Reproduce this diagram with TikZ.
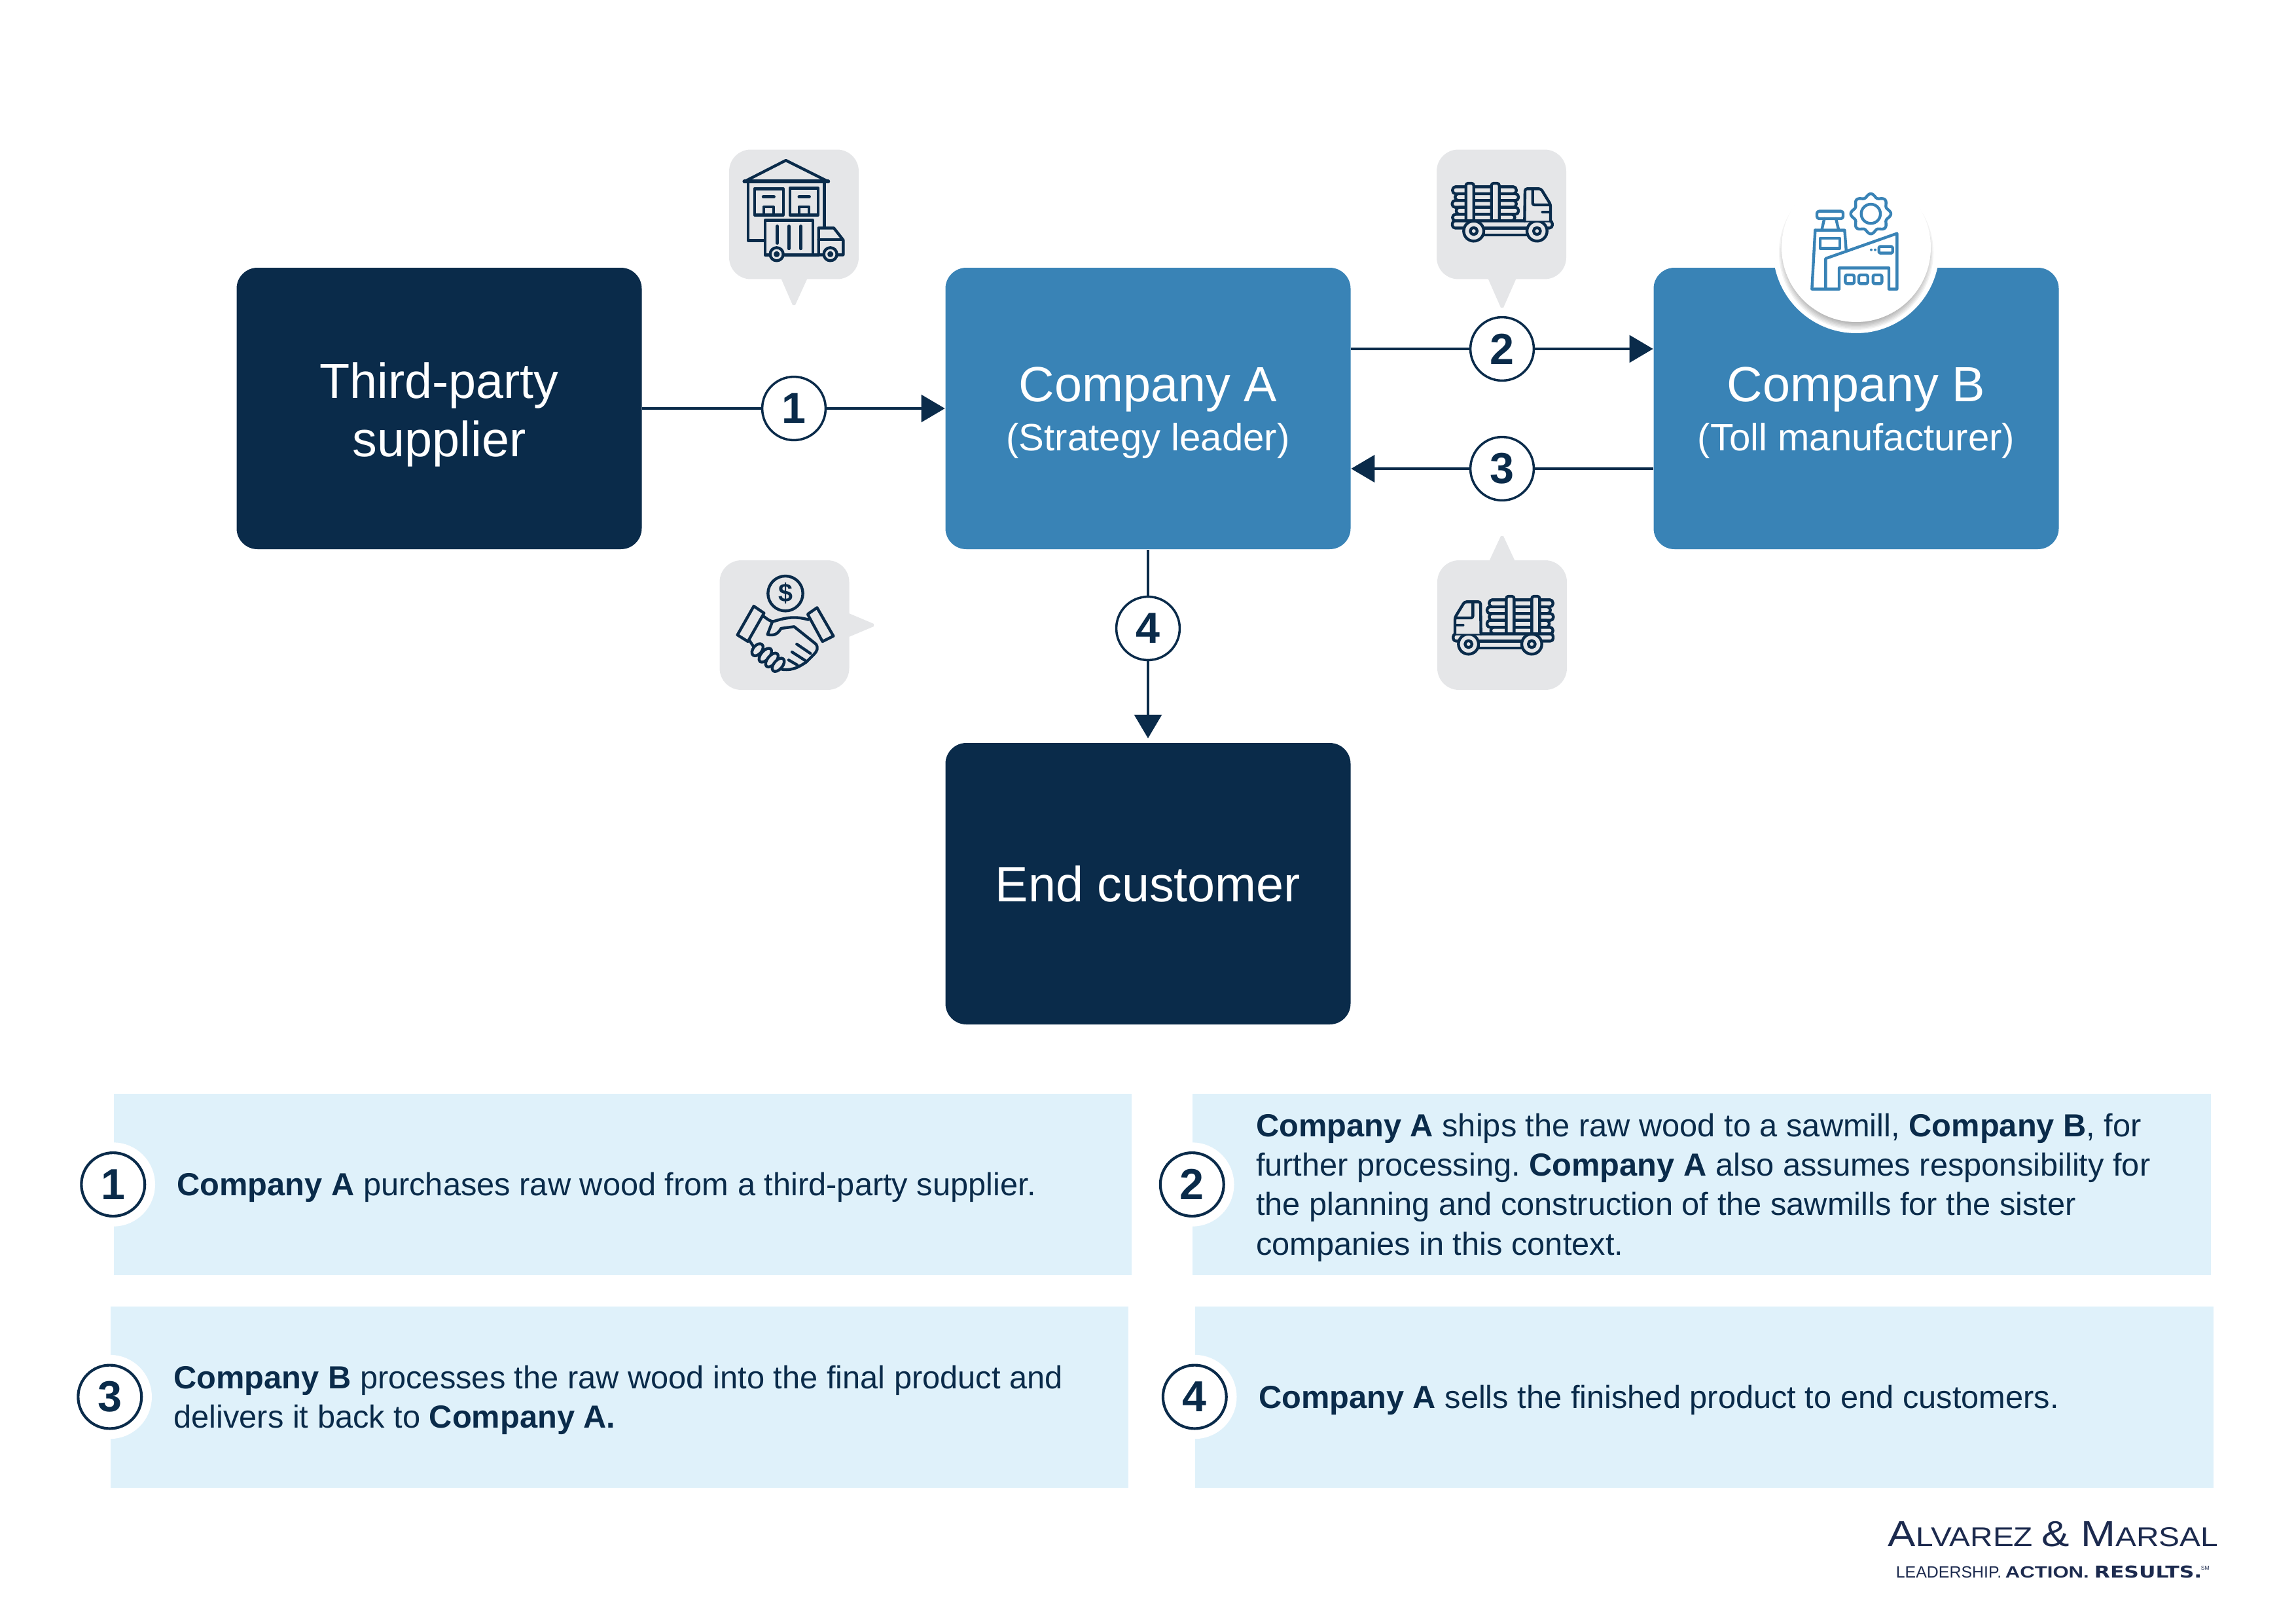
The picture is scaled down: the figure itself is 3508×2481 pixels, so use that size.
\documentclass[tikz,border=0pt]{standalone}
\usepackage{fontspec}
\setmainfont{Liberation Sans}
\newfontfamily\logofont{DejaVu Sans}
\usetikzlibrary{positioning,arrows.meta,calc}
\definecolor{navybg}{RGB}{10,43,74}
\definecolor{bluebg}{RGB}{57,131,182}
\definecolor{panelbg}{RGB}{223,241,250}
\definecolor{bubblebg}{RGB}{229,230,232}
\definecolor{logonavy}{RGB}{28,42,78}

\tikzset{
    iconline/.style={draw=navybg, line width=1.05pt, line join=round, line cap=round},
    logtruck/.pic={
        \begin{scope}[shift={(-347,-405)}]
            \draw[iconline, fill=bubblebg, rounded corners=1.1pt] (285,289) rectangle (577,321);
            \draw[iconline, fill=bubblebg, rounded corners=1.1pt] (275,321) rectangle (565,352);
            \draw[iconline, fill=bubblebg, rounded corners=1.1pt] (285,352) rectangle (579,383);
            \draw[iconline, fill=bubblebg, rounded corners=1.1pt] (275,383) rectangle (560,415);
            \draw[iconline, fill=bubblebg, rounded corners=1.1pt] (292,415) rectangle (577,445);
            \foreach \stakex in {381,498} {
                \draw[iconline, fill=bubblebg, rounded corners=0.8pt] (\stakex-18,445) -- (\stakex-18,273) -- (\stakex+18,273) -- (\stakex+18,445);
            }
            \draw[iconline, fill=bubblebg, rounded corners=1pt] (120,445) rectangle (578,478);
            \draw[iconline, fill=bubblebg] (230,478) rectangle (440,510);
            \foreach \wheelx in {190,480} {
                \draw[iconline, fill=bubblebg] (\wheelx,492) circle[radius=46];
                \draw[iconline, fill=bubblebg] (\wheelx,492) circle[radius=16];
            }
            \draw[iconline, fill=bubblebg, rounded corners=0.8pt] (128,445) -- (128,370) -- (172,298) -- (245,298) -- (247,445);
            \draw[iconline, rounded corners=0.65pt] (210,300) -- (210,372) -- (130,372);
            \draw[iconline] (130,405) -- (165,405);
        \end{scope}
    }
}

\begin{document}
\frenchspacing
\begin{tikzpicture}[
    x=0.08466mm, y=-0.08466mm,
    box/.style={rectangle, minimum width=52.4mm, minimum height=36.4mm, rounded corners=2.7mm, align=center, text=white, font=\fontsize{18.2}{21.6}\selectfont},
    bubble/.style={rectangle, minimum size=16.76mm, rounded corners=2.8mm, fill=bubblebg, inner sep=0pt},
    badge/.style={circle, draw=navybg, line width=0.85pt, fill=white, minimum size=8.2mm, inner sep=0pt, text=navybg, font=\bfseries\fontsize{16}{16}\selectfont},
    halobadge/.style={badge, line width=1pt, preaction={draw=white, line width=7.6pt}},
    flowline/.style={draw=navybg, line width=1pt},
    flowarrow/.style={flowline, -{Triangle[length=8.7pt, width=10pt]}},
    panel/.style={rectangle, minimum width=131.7mm, minimum height=23.45mm, fill=panelbg, inner sep=0pt},
    paneltext/.style={align=left, inner sep=0pt, yshift=-1.1pt, text=navybg, font=\fontsize{11.75}{14.5}\selectfont},
    logotext/.style={anchor=base west, inner sep=0pt, text=logonavy},
]
    \useasboundingbox (0,0) rectangle (3508,2481);

    \node[box, fill=navybg] (supplier) at (671, 624) {\rule{0pt}{17.7pt}Third-party\\supplier};
    \node[box, fill=bluebg] (companya) at (1754, 624) {\rule{0pt}{15.8pt}Company A\\[-3.5pt]{\fontsize{14}{17}\selectfont (Strategy leader)}};
    \node[box, fill=bluebg] (companyb) at (2836, 624) {\rule{0pt}{15.8pt}Company B\\[-3.5pt]{\fontsize{14}{17}\selectfont (Toll manufacturer)}};
    \node[box, fill=navybg] (customer) at (1754, 1350) {End customer};

    \node[badge] (stepone) at (1213, 624) {1};
    \node[badge] (steptwo) at (2295, 533) {2};
    \node[badge] (stepthree) at (2295, 716) {3};
    \node[badge] (stepfour) at (1754, 960) {4};

    \draw[flowline] (supplier) -- (stepone);
    \draw[flowarrow] (stepone) -- (companya);
    \draw[flowline] (companya.east |- steptwo) -- (steptwo);
    \draw[flowarrow] (steptwo) -- (steptwo -| companyb.west);
    \draw[flowline] (companyb.west |- stepthree) -- (stepthree);
    \draw[flowarrow] (stepthree) -- (stepthree -| companya.east);
    \draw[flowline] (companya) -- (stepfour);
    \draw[flowarrow, shorten >=1.5pt] (stepfour) -- (customer);

    % speech bubbles
    \node[bubble] (bubblebuy) at (1213, 327.5) {};
    \fill[bubblebg] (1191,420) -- (1211,466) -- (1215,466) -- (1236,420) -- cycle;
    \node[bubble] (bubbleship) at (2294, 327.5) {};
    \fill[bubblebg] (2271,420) -- (2293,470) -- (2297,470) -- (2319,420) -- cycle;
    \node[bubble] (bubblepay) at (1198.5, 955) {};
    \fill[bubblebg] (1290,934) -- (1335,953) -- (1335,957) -- (1290,976) -- cycle;
    \node[bubble] (bubbleback) at (2295, 955) {};
    \fill[bubblebg] (2273,862) -- (2293,819) -- (2297,819) -- (2317,862) -- cycle;

    % warehouse with truck
    \begin{scope}[shift={(1080,200)}, scale=1/3]
        \draw[iconline, fill=bubblebg] (172,232) -- (362,135) -- (556,232) -- cycle;
        \draw[iconline, line width=1.4pt] (172,232) -- (556,232);
        \draw[iconline] (188,232) -- (188,502) -- (266,502);
        \draw[iconline] (538,232) -- (538,445);
        \draw[iconline] (218,265) rectangle (350,385);
        \draw[iconline] (380,262) rectangle (510,385);
        \draw[iconline] (258,302) -- (308,302);
        \draw[iconline] (422,302) -- (470,302);
        \draw[iconline] (260,348) rectangle (305,385);
        \draw[iconline] (422,348) rectangle (468,385);
        \draw[iconline, fill=bubblebg] (266,410) rectangle (486,568);
        \draw[iconline] (322,436) -- (322,515);
        \draw[iconline] (376,436) -- (376,540);
        \draw[iconline] (430,436) -- (430,540);
        \draw[iconline, fill=bubblebg] (512,568) -- (512,445) -- (582,445) -- (625,500) -- (625,568) -- cycle;
        \draw[iconline] (512,498) -- (622,498);
        \draw[iconline] (486,568) -- (512,568);
        \foreach \wheelx in {320,566} {
            \draw[iconline, fill=bubblebg] (\wheelx,565) circle[radius=30];
            \draw[iconline, fill=navybg] (\wheelx,565) circle[radius=7];
        }
    \end{scope}

    \pic[scale=1/3, xscale=-1] at (2296, 324) {logtruck};
    \pic[scale=1/3] at (2296, 955) {logtruck};

    % handshake
    \begin{scope}[shift={(1080,840)}, scale=1/3]
        \draw[iconline] (360,200) circle[radius=80];
        \node[inner sep=0pt, text=navybg, font=\bfseries\fontsize{9.5}{9.5}\selectfont] (dollar) at (360,200) {\$};
        \draw[iconline, fill=bubblebg] (215,258) -- (262,290) -- (188,420) -- (140,390) -- cycle;
        \draw[iconline, fill=bubblebg] (505,265) -- (580,395) -- (530,420) -- (462,295) -- cycle;
        \draw[iconline] (258,303) .. controls (280,320) and (295,330) .. (305,328) .. controls (350,315) and (395,300) .. (465,320);
        \draw[iconline] (300,330) -- (278,388) .. controls (310,395) and (325,385) .. (340,360) -- (400,352) -- (500,432) .. controls (512,450) and (505,465) .. (490,480) -- (455,515) .. controls (430,530) and (400,555) .. (345,548);
        \draw[iconline] (412,432) -- (475,475);
        \draw[iconline] (390,468) -- (455,510);
        \draw[iconline] (375,505) -- (415,528);
        \draw[iconline] (195,415) -- (215,445);
        \draw[iconline, fill=bubblebg, rotate around={50:(232,458)}] (232,458) ellipse (32 and 20);
        \draw[iconline, fill=bubblebg, rotate around={50:(268,483)}] (268,483) ellipse (38 and 20);
        \draw[iconline, fill=bubblebg, rotate around={50:(298,505)}] (298,505) ellipse (38 and 20);
        \draw[iconline, fill=bubblebg, rotate around={50:(327,527)}] (327,527) ellipse (36 and 20);
    \end{scope}

    % factory medallion on company B
    \fill[white] (2836,382) circle[radius=127];
    \foreach \shadowr in {108,110,112,114,116,118} {
        \fill[black, opacity=0.05] (2836,386) circle[radius=\shadowr];
    }
    \node[circle, fill=white, minimum size=19.3mm, inner sep=0pt] (medallion) at (2836,378) {};
    \begin{scope}[shift={(2700,260)}, scale=1/3]
        \tikzset{iconline/.append style={draw=bluebg}}
        \draw[iconline, rounded corners=0.8pt] (228,188) rectangle (348,222);
        \draw[iconline] (262,222) -- (250,275);
        \draw[iconline] (315,222) -- (328,275);
        \draw[iconline] (220,275) -- (355,275) -- (362,365);
        \draw[iconline] (220,275) -- (205,545) -- (330,545) -- (330,448) -- (558,448) -- (558,545) -- (595,545) -- (595,290) -- (268,405) -- (268,545);
        \draw[iconline] (243,312) rectangle (332,358);
        \draw[iconline, rounded corners=0.4pt] (512,350) rectangle (575,380);
        \fill[bluebg] (477,365) circle[radius=6];
        \fill[bluebg] (495,365) circle[radius=6];
        \foreach \winx in {358,420,485} {
            \draw[iconline, rounded corners=0.65pt] (\winx,480) rectangle (\winx+41,520);
        }
        \draw[iconline] (475,200) circle[radius=44];
        \draw[iconline] plot[domain=0:360, samples=121, smooth] ({475+(84+8*cos(8*\x))*cos(\x)},{200+(84+8*cos(8*\x))*sin(\x)}) -- cycle;
    \end{scope}

    % explanation panels
    \node[panel] (panelone) at (951.5, 1809.5) {};
    \node[panel] (paneltwo) at (2600, 1809.5) {};
    \node[panel] (panelthree) at (946.5, 2134) {};
    \node[panel] (panelfour) at (2604, 2134) {};

    \node[halobadge] (noteone) at (panelone.west) {1};
    \node[halobadge] (notetwo) at (paneltwo.west) {2};
    \node[halobadge] (notethree) at (panelthree.west) {3};
    \node[halobadge] (notefour) at (panelfour.west) {4};

    \node[paneltext, right=8.2mm of panelone.west] (textone) {\textbf{Company A} purchases raw wood from a third-party supplier.};
    \node[paneltext, right=8.2mm of paneltwo.west] (texttwo) {\textbf{Company A} ships the raw wood to a sawmill, \textbf{Company B}, for\\further processing. \textbf{Company A} also assumes responsibility for\\the planning and construction of the sawmills for the sister\\companies in this context.};
    \node[paneltext, right=8.2mm of panelthree.west] (textthree) {\textbf{Company B} processes the raw wood into the final product and\\delivers it back to \textbf{Company A.}};
    \node[paneltext, right=8.2mm of panelfour.west] (textfour) {\textbf{Company A} sells the finished product to end customers.};

    % logo
    \node[logotext, font=\fontsize{10}{10}\selectfont] (logoname) at (2884, 2362) {\scalebox{1.151}[1]{{\fontsize{13.3}{13.3}\selectfont A}LVAREZ {\fontsize{13.3}{13.3}\selectfont \& M}ARSAL}};
    \node[logotext, font=\fontsize{6}{6}\selectfont] (logolead) at (2896, 2410) {LEADERSHIP.};
    \node[logotext, font=\bfseries\fontsize{6}{6}\selectfont] (logoaction) at (3063, 2410) {\scalebox{1.25}[1]{ACTION.}};
    \node[logotext, font=\logofont\bfseries\fontsize{6}{6}\selectfont] (logoresults) at (3199, 2410) {\scalebox{1.26}[1]{RESULTS.}};
    \node[logotext, font=\fontsize{2.1}{2.1}\selectfont] (logosm) at (3362, 2398) {SM};
\end{tikzpicture}
\end{document}
